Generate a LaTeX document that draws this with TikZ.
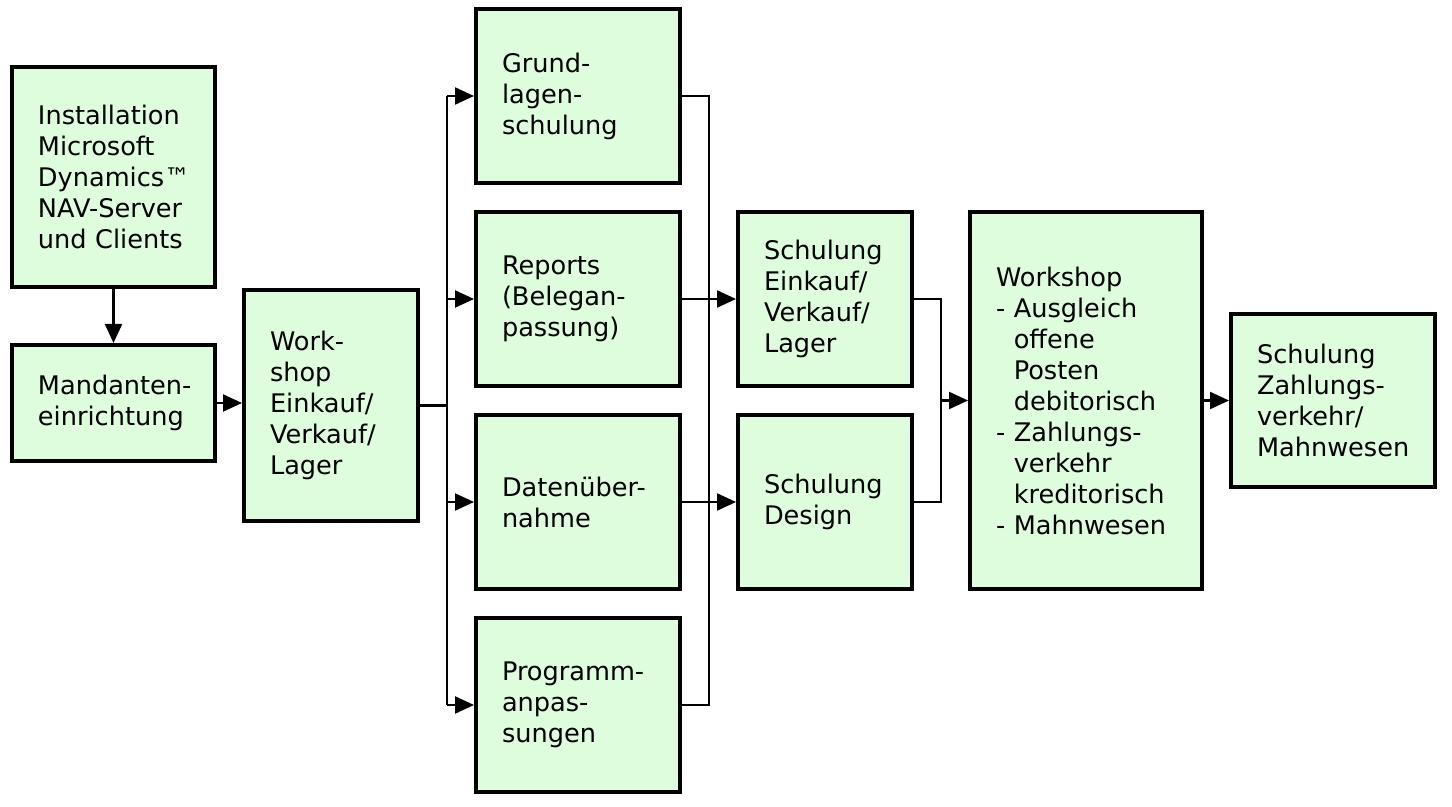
\documentclass[tikz,border=0pt]{standalone}
\usepackage{fontspec}
\setmainfont{DejaVu Sans}
\usetikzlibrary{arrows.meta}
\hyphenpenalty=10000
\exhyphenpenalty=10000
\definecolor{boxfill}{HTML}{DDFDDD}
\newcommand{\boxfont}{\fontsize{12.8pt}{15.5pt}\selectfont}
\tikzset{
  box/.style={draw=black, line width=2pt, fill=boxfill, inner sep=0pt, align=left,
    font=\boxfont},
  conn/.style={draw=black, line width=1.1pt},
  arr/.style={conn, -{Triangle[length=9.5pt,width=8.5pt]}}
}
\begin{document}
\begin{tikzpicture}[x=0.5pt,y=-0.5pt]
\useasboundingbox (0,0) rectangle (1452,807);
% boxes
\node[box, minimum width=101.5pt, minimum height=110pt, text width=75.5pt] (inst) at (113.5,177)
  {Installation\\Microsoft\\Dynamics™\\NAV-Server\\und Clients};
\node[box, minimum width=101.5pt, minimum height=58pt, text width=75.5pt] (mand) at (113.5,403)
  {Mandanten-\\einrichtung};
\node[box, minimum width=87pt, minimum height=115.5pt, text width=61pt] (ws) at (331,405.5)
  {Work-\\shop\\Einkauf/\\Verkauf/\\Lager};
\node[box, minimum width=102pt, minimum height=87pt, text width=76pt] (grund) at (578,96)
  {Grund-\\lagen-\\schulung};
\node[box, minimum width=102pt, minimum height=87pt, text width=76pt] (rep) at (578,299)
  {Reports\\(Belegan-\\passung)};
\node[box, minimum width=102pt, minimum height=87pt, text width=76pt] (dat) at (578,502)
  {Datenüber-\\nahme};
\node[box, minimum width=102pt, minimum height=87pt, text width=76pt] (prog) at (578,705)
  {Programm-\\anpas-\\sungen};
\node[box, minimum width=87pt, minimum height=87pt, text width=61pt] (sevl) at (825,299)
  {Schulung\\Einkauf/\\Verkauf/\\Lager};
\node[box, minimum width=87pt, minimum height=87pt, text width=61pt] (sdes) at (825,502)
  {Schulung\\Design};
\node[box, minimum width=116pt, minimum height=188.5pt, text width=90pt] (wsa) at (1086,400.5)
  {Workshop\\- Ausgleich\\\hphantom{- }offene\\\hphantom{- }Posten\\\hphantom{- }debitorisch\\- Zahlungs-\\\hphantom{- }verkehr\\\hphantom{- }kreditorisch\\- Mahnwesen};
\node[box, minimum width=102pt, minimum height=86.5pt, text width=76pt] (zahl) at (1333,400.5)
  {Schulung\\Zahlungs-\\verkehr/\\Mahnwesen};
% junction columns
\coordinate (s1) at (447,0);
\coordinate (s2) at (709,0);
\coordinate (s3) at (941,0);
% connectors
\draw[arr] (inst.south) -- (mand.north);
\draw[arr] (mand.east) -- (mand.east -| ws.west);
\draw[conn] (ws.east) -- (ws.east -| s1);
\draw[conn] (s1 |- grund.west) -- (s1 |- prog.west);
\draw[arr] (s1 |- grund.west) -- (grund.west);
\draw[arr] (s1 |- rep.west) -- (rep.west);
\draw[arr] (s1 |- dat.west) -- (dat.west);
\draw[arr] (s1 |- prog.west) -- (prog.west);
\draw[conn] (grund.east) -- (grund.east -| s2) -- (prog.east -| s2) -- (prog.east);
\draw[arr] (rep.east) -- (sevl.west);
\draw[arr] (dat.east) -- (sdes.west);
\draw[conn] (sevl.east) -- (sevl.east -| s3) -- (sdes.east -| s3) -- (sdes.east);
\draw[arr] (s3 |- wsa.west) -- (wsa.west);
\draw[arr] (wsa.east) -- (zahl.west);
\end{tikzpicture}
\end{document}
